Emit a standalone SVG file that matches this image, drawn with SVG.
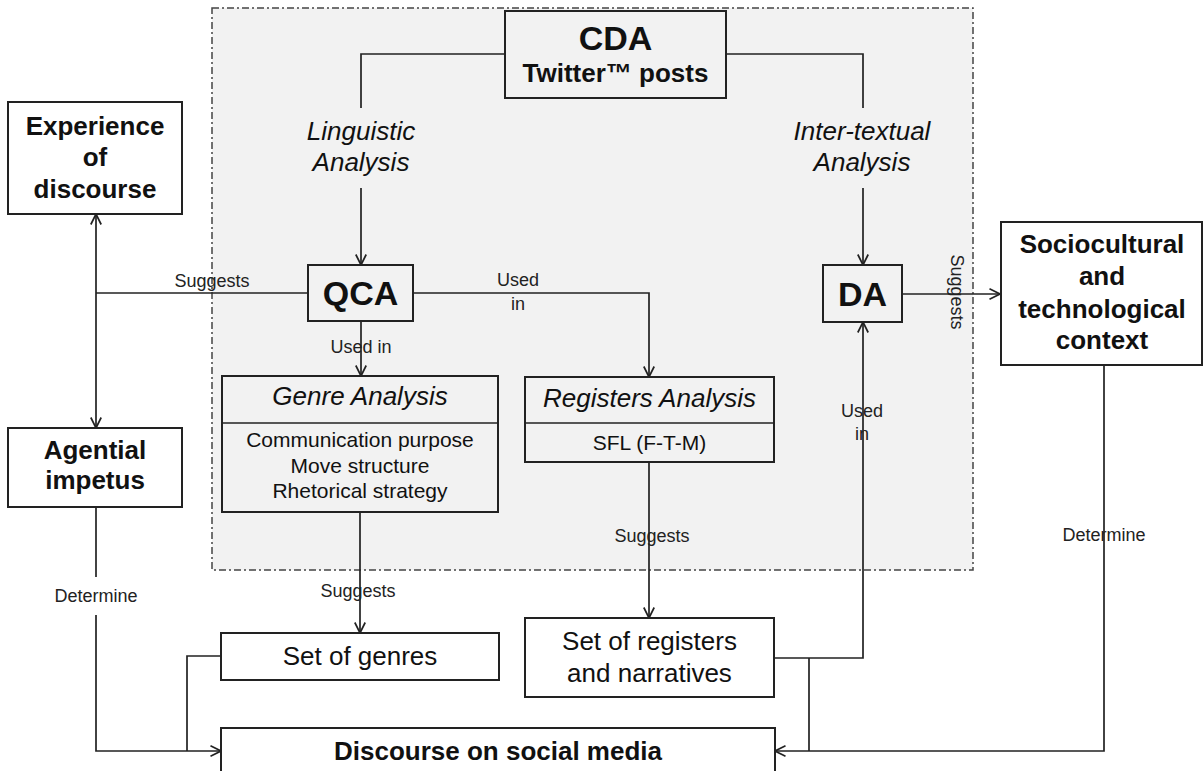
<svg xmlns="http://www.w3.org/2000/svg" width="1204" height="771" viewBox="0 0 1204 771">
<defs>
<marker id="arr" viewBox="0 0 12 12" refX="11.5" refY="6" markerWidth="12" markerHeight="12" markerUnits="userSpaceOnUse" orient="auto">
<path d="M1,0.8 L11.5,6 L1,11.2" fill="none" stroke="#222" stroke-width="1.7"/>
</marker>
<style>
.box{fill:#fff;stroke:#222;stroke-width:2}
.gbox{fill:#f2f2f2;stroke:#222;stroke-width:2}
.ln{fill:none;stroke:#222;stroke-width:1.7}
.b{font-family:"Liberation Sans",Arial,sans-serif;font-weight:bold;fill:#111;text-anchor:middle}
.r{font-family:"Liberation Sans",Arial,sans-serif;fill:#111;text-anchor:middle}
.i{font-family:"Liberation Sans",Arial,sans-serif;font-style:italic;fill:#111;text-anchor:middle}
.lbl{font-family:"Liberation Sans",Arial,sans-serif;font-size:18px;fill:#222;text-anchor:middle}
</style>
</defs>
<rect width="1204" height="771" fill="#fff"/>
<g id="region">
<rect x="212" y="8" width="761" height="562" fill="#f2f2f2" stroke="#444" stroke-width="1.5" stroke-dasharray="7 3 2 3"/>
</g>
<g id="connectors">
<polyline class="ln" points="505,54 361,54 361,108"/>
<polyline class="ln" points="726,54 863,54 863,108"/>
<line class="ln" x1="361" y1="188" x2="361" y2="265" marker-end="url(#arr)"/>
<line class="ln" x1="863" y1="188" x2="863" y2="265" marker-end="url(#arr)"/>
<line class="ln" x1="308" y1="293" x2="96" y2="293"/>
<line class="ln" x1="96" y1="293" x2="96" y2="214" marker-end="url(#arr)"/>
<line class="ln" x1="96" y1="293" x2="96" y2="428" marker-end="url(#arr)"/>
<line class="ln" x1="361" y1="321" x2="361" y2="376" marker-end="url(#arr)"/>
<polyline class="ln" points="413,293 649,293 649,377" marker-end="url(#arr)"/>
<line class="ln" x1="360" y1="512" x2="360" y2="633" marker-end="url(#arr)"/>
<line class="ln" x1="649" y1="462" x2="649" y2="618" marker-end="url(#arr)"/>
<polyline class="ln" points="774,658 863,658 863,322" marker-end="url(#arr)"/>
<line class="ln" x1="902" y1="294" x2="1000" y2="294" marker-end="url(#arr)"/>
<line class="ln" x1="96" y1="507" x2="96" y2="577"/>
<polyline class="ln" points="96,615 96,751 221,751" marker-end="url(#arr)"/>
<polyline class="ln" points="221,656 187,656 187,751"/>
<polyline class="ln" points="1104,365 1104,751 775,751" marker-end="url(#arr)"/>
<line class="ln" x1="809" y1="658" x2="809" y2="751"/>
</g>
<g id="labels">
<text class="i" font-size="26" x="361" y="140">Linguistic</text>
<text class="i" font-size="26" x="361" y="171">Analysis</text>
<text class="i" font-size="26" x="862" y="140">Inter-textual</text>
<text class="i" font-size="26" x="862" y="171">Analysis</text>
<text class="lbl" x="212" y="287">Suggests</text>
<text class="lbl" x="361" y="353">Used in</text>
<text class="lbl" x="518" y="286">Used</text>
<text class="lbl" x="518" y="310">in</text>
<text class="lbl" x="862" y="417">Used</text>
<text class="lbl" x="862" y="440">in</text>
<text class="lbl" x="358" y="597">Suggests</text>
<text class="lbl" x="652" y="542">Suggests</text>
<text class="lbl" x="96" y="602">Determine</text>
<text class="lbl" x="1104" y="541">Determine</text>
<text class="lbl" transform="translate(951,292) rotate(90)">Suggests</text>
</g>
<g id="cda">
<rect class="gbox" x="505" y="11" width="221" height="87"/>
<text class="b" font-size="34" x="615.5" y="50">CDA</text>
<text class="b" font-size="26" x="615.5" y="82">Twitter™ posts</text>
</g>
<g id="qca">
<rect class="gbox" x="308" y="265" width="105" height="56"/>
<text class="b" font-size="34" x="360.5" y="305">QCA</text>
</g>
<g id="da">
<rect class="gbox" x="823" y="265" width="79" height="57"/>
<text class="b" font-size="34" x="862.5" y="306">DA</text>
</g>
<g id="experience">
<rect class="box" x="8" y="102" width="174" height="112"/>
<text class="b" font-size="26" x="95" y="135">Experience</text>
<text class="b" font-size="26" x="95" y="166">of</text>
<text class="b" font-size="26" x="95" y="198">discourse</text>
</g>
<g id="agential">
<rect class="box" x="8" y="428" width="174" height="79"/>
<text class="b" font-size="26" x="95" y="459">Agential</text>
<text class="b" font-size="26" x="95" y="489">impetus</text>
</g>
<g id="genre">
<rect class="gbox" x="222" y="376" width="276" height="136"/>
<line class="ln" x1="222" y1="423" x2="498" y2="423" stroke-width="2"/>
<text class="i" font-size="26" x="360" y="405">Genre Analysis</text>
<text class="r" font-size="21" x="360" y="447">Communication purpose</text>
<text class="r" font-size="21" x="360" y="473">Move structure</text>
<text class="r" font-size="21" x="360" y="498">Rhetorical strategy</text>
</g>
<g id="registers">
<rect class="gbox" x="525" y="377" width="249" height="85"/>
<line class="ln" x1="525" y1="423" x2="774" y2="423" stroke-width="2"/>
<text class="i" font-size="26" x="649.5" y="407">Registers Analysis</text>
<text class="r" font-size="21" x="649.5" y="450">SFL (F-T-M)</text>
</g>
<g id="sociocultural">
<rect class="box" x="1001" y="222" width="201" height="143"/>
<text class="b" font-size="26" x="1102" y="253">Sociocultural</text>
<text class="b" font-size="26" x="1102" y="285">and</text>
<text class="b" font-size="26" x="1102" y="318">technological</text>
<text class="b" font-size="26" x="1102" y="349">context</text>
</g>
<g id="genres-set">
<rect class="box" x="221" y="633" width="278" height="47"/>
<text class="r" font-size="26" x="360" y="665">Set of genres</text>
</g>
<g id="registers-set">
<rect class="box" x="525" y="618" width="249" height="79"/>
<text class="r" font-size="26" x="649.5" y="650">Set of registers</text>
<text class="r" font-size="26" x="649.5" y="682">and narratives</text>
</g>
<g id="discourse">
<rect class="box" x="221" y="728" width="554" height="60"/>
<text class="b" font-size="26" x="498" y="760">Discourse on social media</text>
</g>
</svg>
